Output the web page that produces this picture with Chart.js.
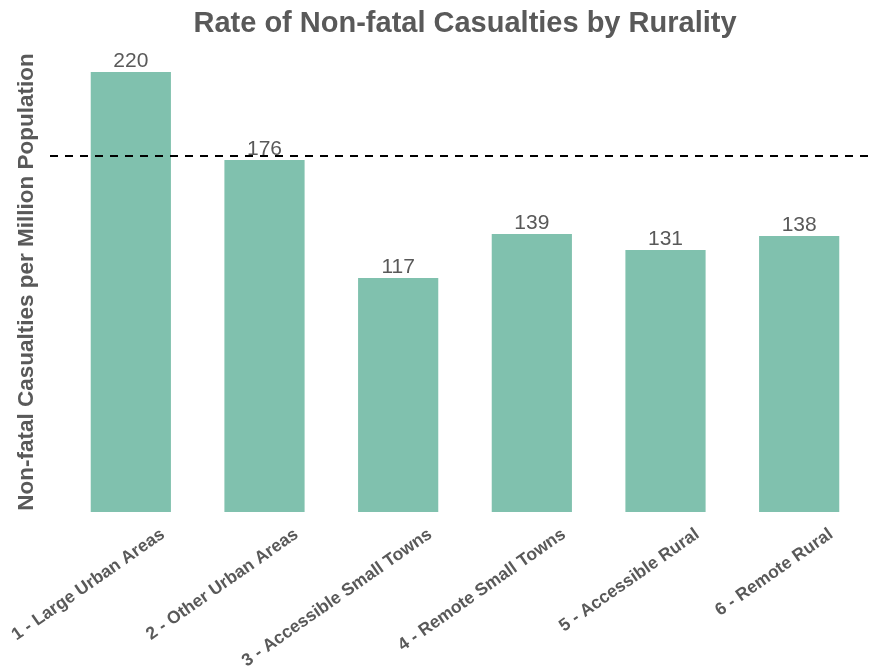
<!DOCTYPE html>
<html>
<head>
<meta charset="utf-8">
<script src="https://cdn.jsdelivr.net/npm/chart.js@4"></script>
<style>
  html, body { margin: 0; padding: 0; background: #fff; }
  #wrap { width: 871px; height: 666px; }
</style>
</head>
<body>
<div id="wrap"><canvas id="myChart"></canvas></div>
<script>
  // Data
  const categories = [
    '1 - Large Urban Areas',
    '2 - Other Urban Areas',
    '3 - Accessible Small Towns',
    '4 - Remote Small Towns',
    '5 - Accessible Rural',
    '6 - Remote Rural'
  ];
  const rates = [220, 176, 117, 139, 131, 138];
  const averageRate = 178;

  const grey = '#595959';
  const sans = "'Liberation Sans', Arial, sans-serif";

  // value labels above bars
  const barLabels = {
    id: 'barLabels',
    afterDatasetsDraw(chart) {
      const ctx = chart.ctx;
      const meta = chart.getDatasetMeta(0);
      ctx.save();
      ctx.fillStyle = grey;
      ctx.font = "21px " + sans;
      ctx.textAlign = 'center';
      ctx.textBaseline = 'bottom';
      meta.data.forEach((bar, i) => {
        ctx.fillText(rates[i], bar.x, bar.y);
      });
      ctx.restore();
    }
  };

  // dashed average line
  const avgLine = {
    id: 'avgLine',
    afterDatasetsDraw(chart) {
      const ctx = chart.ctx;
      const y = chart.scales.y.getPixelForValue(averageRate);
      ctx.save();
      ctx.strokeStyle = '#000';
      ctx.lineWidth = 2;
      ctx.setLineDash([8, 7]);
      ctx.beginPath();
      ctx.moveTo(50, y);
      ctx.lineTo(chart.width, y);
      ctx.stroke();
      ctx.restore();
    }
  };

  new Chart(document.getElementById('myChart'), {
    type: 'bar',
    data: {
      labels: categories,
      datasets: [{
        data: rates,
        backgroundColor: '#80C1AE',
        barPercentage: 0.6,
        categoryPercentage: 1
      }]
    },
    options: {
      responsive: true,
      maintainAspectRatio: false,
      animation: false,
      layout: { padding: { right: 5, left: 0, top: 0, bottom: 0 } },
      scales: {
        x: {
          grid: { display: false, drawTicks: false },
          border: { display: false },
          ticks: {
            color: grey,
            font: { family: sans, size: 17.5, weight: 'bold' },
            minRotation: 35,
            maxRotation: 35,
            autoSkip: false,
            labelOffset: 32,
            padding: 12
          },
          afterFit(scale) {
            scale.height = 154;
            scale.paddingLeft = 0;
            scale.paddingRight = 0;
          }
        },
        y: {
          min: 0,
          max: 230,
          grid: { display: false, drawTicks: false },
          border: { display: false },
          ticks: { display: false },
          title: {
            display: true,
            text: 'Non-fatal Casualties per Million Population',
            color: grey,
            font: { family: sans, size: 22.5, weight: 'bold' },
            padding: { top: 13, bottom: 0 }
          },
          afterFit(scale) { scale.width = 64; }
        }
      },
      plugins: {
        legend: { display: false },
        tooltip: { enabled: false },
        title: {
          display: true,
          text: 'Rate of Non-fatal Casualties by Rurality',
          color: grey,
          fullSize: false,
          font: { family: sans, size: 29, weight: 'bold', lineHeight: 1.2 },
          padding: { top: 7, bottom: 10.2 }
        }
      }
    },
    plugins: [barLabels, avgLine]
  });
</script>
</body>
</html>
